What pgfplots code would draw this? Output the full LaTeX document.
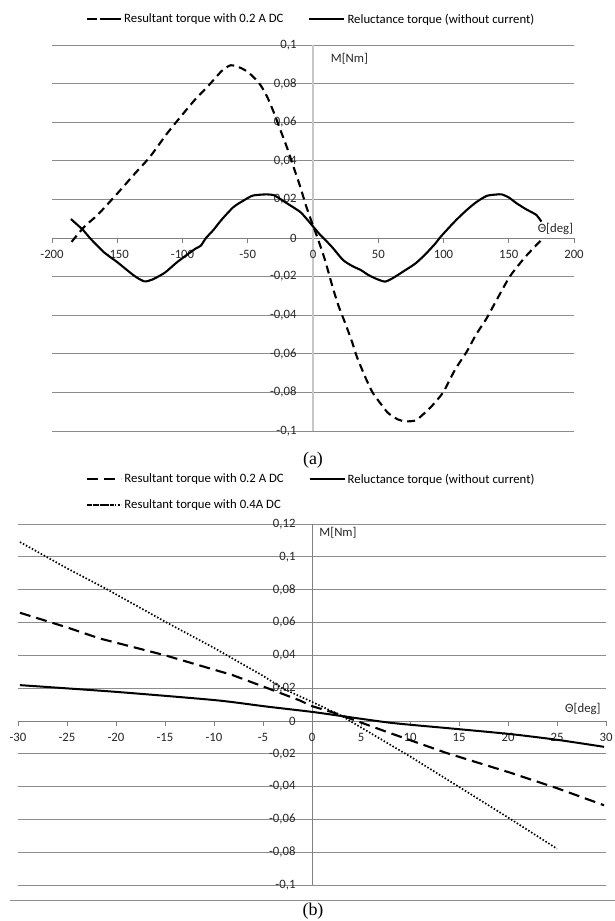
\documentclass[border=0pt]{standalone}
\usepackage{fontspec}
\setmainfont{Carlito}
\newfontfamily\capfont{Liberation Serif}
\usepackage{pgfplots}
\pgfplotsset{compat=1.18}

\pgfplotsset{
  excel/.style={
    scale only axis,
    axis lines=middle,
    axis line style={-},
    hide obscured x ticks=false,
    hide obscured y ticks=false,
    ymajorgrids,
    major grid style={black!45, line width=0.7bp},
    tick label style={font=\fontsize{12.8}{14}\selectfont, text=black!85},
    major tick length=5bp,
    tick align=outside,
    xtick style={black!50, line width=0.7bp},
    ytick style={draw=none},
    x axis line style={black!50, line width=0.7bp},
    yticklabel style={anchor=east, xshift=-8bp},
    xticklabel style={anchor=north, yshift=-4bp},
    legend cell align=left,
    legend style={draw=none, fill=none, font=\fontsize{12.8}{14}\selectfont, inner sep=0pt,
      /tikz/every even column/.append style={column sep=23bp}},
    legend columns=2,
    clip=false,
  },
  dashA/.style={black, line width=2.1bp, dash pattern=on 8bp off 5bp},
  solidA/.style={black, line width=2.1bp},
  dotB/.style={black, line width=1.7bp, dash pattern=on 1.5bp off 1.9bp},
  dashimg/.style={legend image code/.code={\draw[##1, dash pattern=on 9bp off 8bp] (1bp,0bp) -- (27bp,0bp); \path (0bp,0bp) -- (34bp,0bp);}},
  dotimg/.style={legend image code/.code={\draw[##1] (2bp,0bp) -- (27bp,0bp); \path (0bp,0bp) -- (34bp,0bp);}},
  longimg/.style={legend image code/.code={\draw[##1] (0bp,0bp) -- (35bp,0bp); \path (0bp,0bp) -- (33bp,0bp);}},
}

\begin{document}
\begin{tikzpicture}
\useasboundingbox (0,0) rectangle (615bp,921bp);

% ---------------- (a) ----------------
\begin{axis}[excel,
  at={(52bp,490bp)}, anchor=south west,
  width=522bp, height=386bp,
  xmin=-200, xmax=200, ymin=-0.1, ymax=0.1,
  xtick={-200,-150,-100,-50,0,50,100,150,200},
  xticklabels={-200,-150,-100,-50,0,50,100,150,200},
  ytick={-0.1,-0.08,-0.06,-0.04,-0.02,0,0.02,0.04,0.06,0.08,0.1},
  yticklabels={-0{,}1,-0{,}08,-0{,}06,-0{,}04,-0{,}02,0,0{,}02,0{,}04,0{,}06,0{,}08,0{,}1},
  y axis line style={black!22, line width=1.8bp},
  legend style={at={(0.065,1.067)}, anchor=west},
]
\addplot[dashA, smooth, tension=0.4, dashimg] coordinates {
(-185,-0.002) (-175,0.006) (-165,0.012) (-150,0.023) (-137,0.033) (-125,0.042)
(-112,0.054) (-100,0.064) (-90,0.072) (-80,0.079) (-70,0.0865) (-63,0.0895)
(-55,0.088) (-50,0.086) (-45,0.083) (-40,0.079) (-35,0.073) (-30,0.065)
(-25,0.056) (-20,0.047) (-15,0.037) (-10,0.027) (-5,0.016) (0,0.0065)
(3.5,0.0) (9,-0.011) (15.5,-0.0265) (20,-0.036) (24.6,-0.044) (30,-0.054)
(33.6,-0.0615) (40,-0.072) (45.6,-0.080) (52,-0.086) (57.6,-0.0907) (65,-0.094)
(71,-0.095) (78.7,-0.0945) (85,-0.091) (90.6,-0.0874) (99.7,-0.080) (108.7,-0.0684)
(117.8,-0.0589) (125,-0.050) (132.7,-0.042) (140,-0.033) (150.8,-0.020) (162.8,-0.0097)
(175,-0.001)
};
\addlegendentry{Resultant torque with 0.2 A DC}
\addplot[solidA, smooth, tension=0.4, longimg] coordinates {
(-185.5,0.0098) (-176,0.004) (-171,0.000) (-160,-0.0075) (-150,-0.0125) (-140,-0.018)
(-135,-0.0205) (-129,-0.0225) (-123,-0.0215) (-113.6,-0.018) (-105,-0.013) (-98.6,-0.0097)
(-90,-0.0055) (-86,-0.004) (-82,0.000) (-76.5,0.004) (-70,0.0095) (-61,0.016)
(-53,0.0195) (-46,0.022) (-35.5,0.0226) (-30,0.0222) (-27.8,0.0214) (-20,0.018)
(-10,0.0136) (-5,0.010) (0,0.006) (5,0.002) (8,0.000) (15,-0.005) (23,-0.0114)
(30,-0.0145) (36.6,-0.0166) (42,-0.019) (48,-0.021) (55,-0.0226) (60.6,-0.021)
(70,-0.017) (78.7,-0.0131) (86,-0.0085) (93.6,-0.003) (97,0.000) (103,0.0045)
(110,0.0095) (117.8,0.0145) (125,0.0185) (133,0.0218) (140,0.0225) (144.6,0.0226)
(150,0.021) (156,0.018) (163,0.015) (171,0.012) (175,0.0085)
};
\addlegendentry{Reluctance torque (without current)}
\node[anchor=west, font=\fontsize{12.8}{14}\selectfont, text=black!85] at (axis cs:11,0.093) {M[Nm]};
\node[anchor=east, font=\fontsize{12.8}{14}\selectfont, text=black!85] at (axis cs:202,0.0047) {Θ[deg]};
\end{axis}

\node[font=\capfont\fontsize{18}{20}\selectfont] at (313bp,461bp) {(a)};

% ---------------- (b) ----------------
\begin{axis}[excel,
  at={(18bp,36bp)}, anchor=south west,
  width=588bp, height=361bp,
  xmin=-30, xmax=30, ymin=-0.1, ymax=0.12,
  xtick={-30,-25,-20,-15,-10,-5,0,5,10,15,20,25,30},
  xticklabels={-30,-25,-20,-15,-10,-5,0,5,10,15,20,25,30},
  ytick={-0.1,-0.08,-0.06,-0.04,-0.02,0,0.02,0.04,0.06,0.08,0.1,0.12},
  yticklabels={-0{,}1,-0{,}08,-0{,}06,-0{,}04,-0{,}02,0,0{,}02,0{,}04,0{,}06,0{,}08,0{,}1,0{,}12},
  y axis line style={black!50, line width=0.7bp},
  legend style={at={(0.116,1.145)}, anchor=north west, row sep=11bp},
]
\addplot[black, line width=2.1bp, dash pattern=on 11bp off 6bp, dashimg] coordinates {
(-29.8,0.0659) (-25,0.057) (-21.7,0.0503) (-15,0.040) (-8.1,0.0279) (-5,0.021)
(-1.3,0.0126) (0,0.009) (2.5,0.0045) (5,-0.001) (8.1,-0.0077) (13.7,-0.0195)
(20.2,-0.0315) (25,-0.041) (29.8,-0.0514)
};
\addlegendentry{Resultant torque with 0.2 A DC}
\addplot[solidA, line width=2bp, smooth, tension=0.4, longimg] coordinates {
(-29.8,0.0218) (-20,0.0177) (-9.8,0.0126) (-4.7,0.0088) (0,0.0055) (3,0.003)
(8.1,-0.0012) (14,-0.0045) (20.2,-0.0080) (25,-0.0115) (29.8,-0.0158)
};
\addlegendentry{Reluctance torque (without current)}
\addplot[dotB, dotimg] coordinates {
(-29.8,0.109) (-25,0.093) (-21.1,0.0808) (-15,0.0605) (-10,0.0445) (-8.1,0.038)
(-5,0.0275) (-3,0.0198) (0,0.0116) (2.9,0.0035) (5,-0.004) (10.1,-0.022)
(16.1,-0.0443) (20.2,-0.0596) (25,-0.0779)
};
\addlegendentry{Resultant torque with 0.4A DC}
\node[anchor=west, font=\fontsize{12.8}{14}\selectfont, text=black!85] at (axis cs:0.4,0.1145) {M[Nm]};
\node[anchor=east, font=\fontsize{12.8}{14}\selectfont, text=black!85] at (axis cs:29.8,0.0071) {Θ[deg]};
\end{axis}

\draw[black!45, line width=0.8bp] (10bp,21bp) -- (615bp,21bp);
\node[font=\capfont\fontsize{18}{20}\selectfont] at (313bp,9.5bp) {(b)};
\end{tikzpicture}
\end{document}
